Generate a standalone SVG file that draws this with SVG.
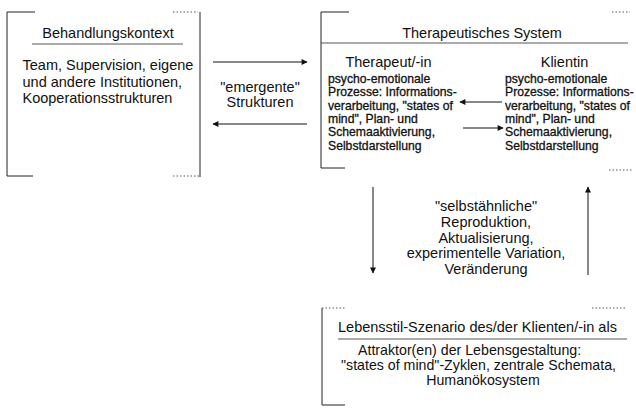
<svg xmlns="http://www.w3.org/2000/svg" width="636" height="410" viewBox="0 0 636 410">
<style>
  text { font-family: "Liberation Sans", Arial, sans-serif; fill: #111; }
  .t { font-size: 14.5px; }
  .s { font-size: 14.2px; }
  .b { font-size: 12.2px; stroke: #111; stroke-width: 0.3; }
  .frame { stroke: #222; stroke-width: 1; fill: none; }
  .dots { stroke: #555; stroke-width: 1; fill: none; stroke-dasharray: 1.5 2; }
  .ul { stroke: #444; stroke-width: 0.9; fill: none; }
  .arr { stroke: #111; stroke-width: 1; fill: none; }
  .mid { text-anchor: middle; }
</style>
<defs>
  <marker id="ah" viewBox="0 0 10 10" refX="9" refY="5" markerWidth="7" markerHeight="6" markerUnits="userSpaceOnUse" orient="auto">
    <path d="M0,0 L10,5 L0,10 z" fill="#111"/>
  </marker>
</defs>
<rect width="636" height="410" fill="#fff"/>

<g id="behandlungskontext">
  <path class="frame" d="M35,12 H7 V176 H33"/>
  <path class="frame" d="M200,12 V177"/>
  <path class="dots" d="M173,12 H198 M173,176 H199"/>
  <text class="t mid" x="108" y="38">Behandlungskontext</text>
  <path class="ul" d="M32,44 H183"/>
  <text class="t" x="22.5" y="70">Team, Supervision, eigene</text>
  <text class="t" x="22.5" y="86.5">und andere Institutionen,</text>
  <text class="t" x="22.5" y="102.5">Kooperationsstrukturen</text>
</g>

<g id="therapeutisches-system">
  <path class="frame" d="M349,12 H321 V168 H345"/>
  <path class="dots" d="M612,12 H630 M609,170 H632"/>
  <text class="t mid" x="482" y="38">Therapeutisches System</text>
  <path class="ul" d="M321,43 H628"/>
  <g id="therapeut">
    <text class="t mid" x="388.5" y="67">Therapeut/-in</text>
    <text class="b" x="328" y="83">psycho-emotionale</text>
    <text class="b" x="328" y="96.3">Prozesse: Informations-</text>
    <text class="b" x="328" y="109.6">verarbeitung, "states of</text>
    <text class="b" x="328" y="122.9">mind", Plan- und</text>
    <text class="b" x="328" y="136.2">Schemaaktivierung,</text>
    <text class="b" x="328" y="149.5">Selbstdarstellung</text>
  </g>
  <g id="klientin">
    <text class="t mid" x="564.5" y="67">Klientin</text>
    <text class="b" x="505" y="83">psycho-emotionale</text>
    <text class="b" x="505" y="96.3">Prozesse: Informations-</text>
    <text class="b" x="505" y="109.6">verarbeitung, "states of</text>
    <text class="b" x="505" y="122.9">mind", Plan- und</text>
    <text class="b" x="505" y="136.2">Schemaaktivierung,</text>
    <text class="b" x="505" y="149.5">Selbstdarstellung</text>
  </g>
</g>

<g id="lebensstil-szenario">
  <path class="frame" d="M322,308 V405 H345"/>
  <path class="dots" d="M322,308 H345 M592,308 H627"/>
  <text class="t" x="338" y="332">Lebensstil-Szenario des/der Klienten/-in als</text>
  <path class="ul" d="M338,339 H627"/>
  <text class="s" x="358" y="355">Attraktor(en) der Lebensgestaltung:</text>
  <text class="s" x="341" y="370">"states of mind"-Zyklen, zentrale Schemata,</text>
  <text class="s mid" x="483" y="385">Humanökosystem</text>
</g>

<g id="connectors">
  <path class="arr" d="M213,62 H307" marker-end="url(#ah)"/>
  <path class="arr" d="M307,124 H213" marker-end="url(#ah)"/>
  <text class="t mid" x="260" y="92">"emergente"</text>
  <text class="t mid" x="260" y="107">Strukturen</text>
  <path class="arr" d="M502,102 H460" marker-end="url(#ah)"/>
  <path class="arr" d="M463,128 H503" marker-end="url(#ah)"/>
  <path class="arr" d="M373,187 V273" marker-end="url(#ah)"/>
  <path class="arr" d="M588,275 V187" marker-end="url(#ah)"/>
  <text class="t mid" x="486" y="211">"selbstähnliche"</text>
  <text class="t mid" x="486" y="227">Reproduktion,</text>
  <text class="t mid" x="486" y="242.5">Aktualisierung,</text>
  <text class="t mid" x="486" y="258">experimentelle Variation,</text>
  <text class="t mid" x="486" y="273.5">Veränderung</text>
</g>
</svg>
